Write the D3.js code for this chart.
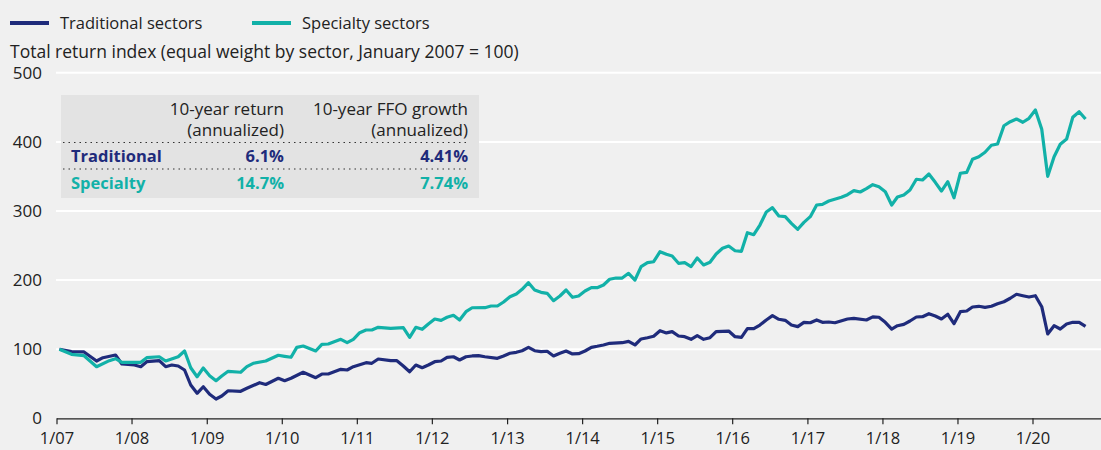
<!DOCTYPE html>
<html><head><meta charset="utf-8">
<script src="https://cdn.jsdelivr.net/npm/d3@7"></script>
<style>
html,body{margin:0;padding:0;background:#f0f0f0;}
svg{display:block;font-family:"Open Sans","Noto Sans",sans-serif;}
</style>
</head><body>
<svg id="c" width="1101" height="450"></svg>
<script>
// ---- data (months since January 2007, index values) ----
const seriesNames = ["Traditional sectors", "Specialty sectors"];
const subtitle = "Total return index (equal weight by sector, January 2007 = 100)";
const yTicks = [0, 100, 200, 300, 400, 500];
const xTickYears = [2007,2008,2009,2010,2011,2012,2013,2014,2015,2016,2017,2018,2019,2020];
const xTickLabels = ["1/07","1/08","1/09","1/10","1/11","1/12","1/13","1/14","1/15","1/16","1/17","1/18","1/19","1/20"];

const tableHead1 = ["10-year return", "10-year FFO growth"];
const tableHead2 = ["(annualized)", "(annualized)"];
const tableRows = ["Traditional", "Specialty"];
const tenYearReturn = ["6.1%", "14.7%"];
const ffoGrowth = ["4.41%", "7.74%"];

const tradMonths = [0,2,4,6,7,9,10,12,13,14,16,17,18,19,20,21,22,23,24,25,26,27,29,30,32,33,35,36,37,39,
  41,42,43,45,46,47,49,50,51,53,54,55,56,57,58,59,60,61,62,63,64,65,66,67,68,70,71,72,73,74,
  75,76,77,78,79,80,81,82,83,84,85,86,87,88,90,91,92,93,94,95,96,97,98,99,100,101,102,103,104,105,
  106,107,108,109,110,111,112,113,114,115,116,117,118,119,120,121,122,123,124,126,127,129,130,131,
  132,133,134,135,136,137,138,139,140,141,142,143,144,145,146,147,148,149,150,151,152,153,154,155,
  156,157,158,159,160,161,162,163,164];
const tradValues = [100,96.4,96,82.9,87.7,91.6,78.6,77.1,74.7,81.9,83.4,74.7,77.1,75.7,69.9,48.2,36.2,45.7,34.7,27.9,32.3,39.9,39.1,43.4,51.5,49,57.9,54.4,57.9,66.6,
  58.8,64.1,64.1,70.9,69.9,74.7,80.5,79.6,85.8,83.4,83.4,75.7,67.4,77.1,73.2,77.1,81.9,82.9,88.3,89.1,84.4,89.1,90.2,90.6,89.1,86.8,90.2,94.1,95.5,97.8,
  102.7,97.8,96.4,97,90.2,94.1,97.4,93.1,93.5,97.4,102.7,104.2,106.1,108.5,109.4,111.4,106.1,114.8,116.6,118.7,126.8,123.6,125.4,119.1,118.1,114.3,119.5,114.3,116.6,125.3,
  125.9,126.3,118.1,117.2,129.7,129.7,135,142.3,148.5,143.3,141.8,135,132.6,138.9,138.3,142.3,138.9,139.4,138.3,143.7,144.7,142.3,146.8,146.2,
  138.9,129.2,134,136,140.8,146.6,147,151.4,148,143.7,150.5,136.9,154.3,155.3,161.1,162.1,160.6,162.1,165.8,168.7,173.7,179.5,177.4,175.5,
  177.4,161.5,122,134,129.2,136.5,138.9,138.9,133.1];

const specMonths = [0,2,4,6,8,9,10,13,14,16,17,19,20,21,22,23,24,25,26,27,29,30,31,33,35,36,37,38,39,41,
  42,43,45,46,47,48,49,50,51,53,55,56,57,58,59,60,61,62,63,64,65,66,68,69,70,71,72,73,74,75,
  76,77,78,79,80,81,82,83,84,85,86,87,88,89,90,91,92,93,94,95,96,97,98,99,100,101,102,103,104,105,
  106,107,108,109,110,111,112,113,114,115,116,117,118,119,120,121,122,123,125,126,127,128,129,130,
  131,132,133,134,135,136,137,138,139,140,141,142,143,144,145,146,147,148,149,150,151,152,153,154,
  155,156,157,158,159,160,161,162,163,164];
const specValues = [100,92.6,90.6,74.7,83.4,86.3,81,81,87.7,89.1,82.9,89.1,97.4,73.2,60.2,72.8,61.7,54.4,61.2,68,66.6,74.7,79.6,82.9,91.2,89.7,88.3,102.7,104.6,97.4,
  107.1,107.5,114.3,109.4,114.3,123.9,127.8,127.8,131.7,130.2,131.1,117.2,131.7,128.8,136.5,143.7,141.8,146.2,149.1,142.3,154.3,160,160.1,162.5,162.5,168.3,176,179.9,186.7,196.2,
  185.7,182.3,180.9,170.2,177,185.7,175.1,177,184.2,189,189,192.9,201.2,203,203,209.8,200.1,219.4,225.2,226.6,241.1,237.3,234.9,224.3,225.2,219.4,232,221.9,225.8,237.8,
  246,249.3,242.5,241.7,268.6,265.7,279.7,298.6,304.8,292.8,291.8,282.2,273.5,283.6,291.8,308.7,309.7,314.5,319.8,323.6,329.4,327.5,332.3,338.1,
  335,327.9,308.7,320.3,323.2,330.4,345.9,344.9,353.5,341.5,328.9,342.4,319.2,354.6,356,374.8,378.6,385,395.1,397,423.4,429.2,433.1,428.4,
  434.1,446.2,418.2,350.2,378.6,396.5,404.2,435.6,443.7,433.1];

// ---- styles ----
const W = 1101, H = 450;
const NAVY = "#1f2b7b", TEAL = "#12b1a8", BG = "#f0f0f0";
const colors = [NAVY, TEAL];
const FS = 16.5, FS_TABLE = 17, FS_SUB = 17.5;

const svg = d3.select("#c");
svg.append("rect").attr("width", W).attr("height", H).attr("fill", BG);

const toDate = m => new Date(2007, m, 15);
const x = d3.scaleTime().domain([new Date(2007,0,1), new Date(2020,0,1)]).range([56.5, 1032.5]);
const xAxisScale = x.copy().domain([x.domain()[0], x.invert(W)]).range([56.5, W]);
const y = d3.scaleLinear().domain([0, 500]).range([418.3, 72.8]);

// gridlines
svg.append("g").selectAll("line").data(yTicks.filter(d => d > 0)).join("line")
  .attr("x1", 56).attr("x2", W)
  .attr("y1", d => y(d)).attr("y2", d => y(d))
  .attr("stroke", "#ffffff").attr("stroke-width", 2);

// y labels
const yAxis = svg.append("g").attr("transform", "translate(42,0)")
  .call(d3.axisLeft(y).tickValues(yTicks).tickSize(0).tickPadding(0).tickFormat(d3.format("d")));
yAxis.select(".domain").remove();
yAxis.selectAll("text").attr("font-size", 17).attr("fill", "#222").attr("font-family", "Open Sans");

// x axis
const xAxis = svg.append("g").attr("transform", `translate(0,${y(0)})`)
  .call(d3.axisBottom(xAxisScale)
    .tickValues(xTickYears.map(yr => new Date(yr, 0, 1)))
    .tickFormat((d, i) => xTickLabels[i])
    .tickSizeInner(6).tickSizeOuter(0).tickPadding(8));
xAxis.select(".domain").attr("stroke", "#222").attr("stroke-width", 1.2);
xAxis.selectAll(".tick line").attr("stroke", "#222").attr("stroke-width", 1.2);
xAxis.selectAll("text").attr("font-size", 16.5).attr("fill", "#222").attr("font-family", "Open Sans");

// table box
const tb = svg.append("g");
tb.append("rect").attr("x", 61).attr("y", 95).attr("width", 418).attr("height", 103).attr("fill", "#e3e3e3");
const col1 = 284, col2 = 468;
tableHead1.forEach((t, i) => {
  const cx = i === 0 ? col1 : col2;
  const txt = tb.append("text").attr("text-anchor", "end").attr("font-size", FS_TABLE).attr("fill", "#222");
  txt.append("tspan").attr("x", cx).attr("y", 115).text(t);
  txt.append("tspan").attr("x", cx).attr("y", 135.5).text(tableHead2[i]);
});
[142.5, 169].forEach(yy => {
  tb.append("line").attr("x1", 63).attr("x2", col2).attr("y1", yy).attr("y2", yy)
    .attr("stroke", "#333").attr("stroke-width", 1.2).attr("stroke-dasharray", "1.5,4");
});
tableRows.forEach((name, i) => {
  const yy = 162 + i * 27;
  tb.append("text").attr("x", 71).attr("y", yy).attr("font-size", FS).attr("font-weight", "bold")
    .attr("fill", colors[i]).text(name);
  tb.append("text").attr("x", col1).attr("y", yy).attr("text-anchor", "end").attr("font-size", FS)
    .attr("font-weight", "bold").attr("fill", colors[i]).text(tenYearReturn[i]);
  tb.append("text").attr("x", col2).attr("y", yy).attr("text-anchor", "end").attr("font-size", FS)
    .attr("font-weight", "bold").attr("fill", colors[i]).text(ffoGrowth[i]);
});

// lines
const line = d3.line().x(d => x(toDate(d[0]))).y(d => y(d[1])).curve(d3.curveLinear);
const tradData = tradMonths.map((m, i) => [m, tradValues[i]]);
const specData = specMonths.map((m, i) => [m, specValues[i]]);
svg.append("path").datum(tradData).attr("d", line).attr("fill", "none")
  .attr("stroke", NAVY).attr("stroke-width", 3.2).attr("stroke-linejoin", "round");
svg.append("path").datum(specData).attr("d", line).attr("fill", "none")
  .attr("stroke", TEAL).attr("stroke-width", 3.2).attr("stroke-linejoin", "round");

// legend
const legX = [10, 252];
seriesNames.forEach((n, i) => {
  svg.append("line").attr("x1", legX[i]).attr("x2", legX[i] + 39).attr("y1", 23).attr("y2", 23)
    .attr("stroke", colors[i]).attr("stroke-width", 4);
  svg.append("text").attr("x", legX[i] + 50).attr("y", 28.5).attr("font-size", FS)
    .attr("fill", "#222").text(n);
});
svg.append("text").attr("x", 10).attr("y", 57.5).attr("font-size", FS_SUB).attr("fill", "#222").text(subtitle);
</script>
</body></html>
